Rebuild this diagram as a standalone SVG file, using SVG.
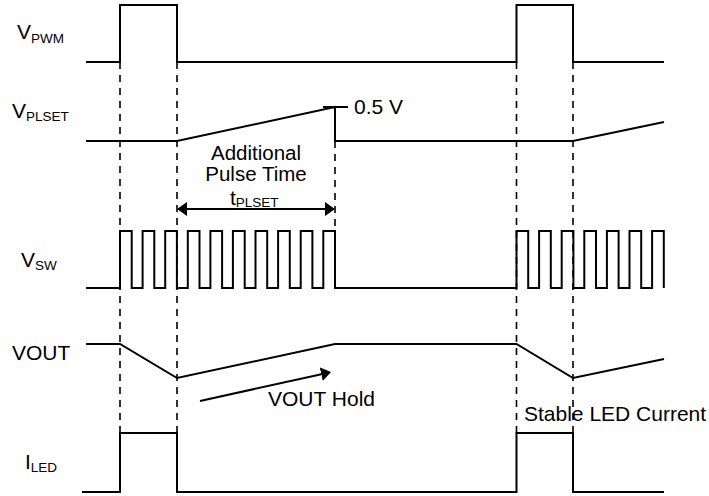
<svg xmlns="http://www.w3.org/2000/svg" width="709" height="496" viewBox="0 0 709 496">
<style>
.w{fill:none;stroke:#000;stroke-width:2;stroke-linejoin:miter}
.d{fill:none;stroke:#000;stroke-width:1.6;stroke-dasharray:7 6}
.a{fill:none;stroke:#000;stroke-width:2}
text{font-family:"Liberation Sans",Arial,sans-serif;fill:#000;font-size:21px}
.s{font-size:13.5px}
.m{font-size:20.5px}
</style>
<defs>
<marker id="ah" viewBox="0 0 10 14" refX="6" refY="7" markerWidth="10" markerHeight="14" markerUnits="userSpaceOnUse" orient="auto-start-reverse">
<path d="M0,0 L10,7 L0,14 Z" fill="#000"/>
</marker>
</defs>
<rect width="709" height="496" fill="#fff"/>

<g id="guides">
<line class="d" x1="120" y1="62" x2="120" y2="433"/>
<line class="d" x1="177" y1="62" x2="177" y2="433"/>
<line class="d" x1="335" y1="141" x2="335" y2="231"/>
<line class="d" x1="516.5" y1="62" x2="516.5" y2="433"/>
<line class="d" x1="573" y1="62" x2="573" y2="433"/>
</g>

<g id="vpwm">
<text x="17" y="39">V<tspan class="s" y="43">PWM</tspan></text>
<path class="w" d="M86,62 H120 V5 H177 V62 H516.5 V5 H573 V62 H664"/>
</g>

<g id="vplset">
<text x="12" y="118">V<tspan class="s" y="121">PLSET</tspan></text>
<path class="w" d="M86,141 H177 L335,107 V141 H573 L664,122"/>
<line class="w" x1="323" y1="107" x2="348" y2="107"/>
<text x="354" y="114">0.5 V</text>
</g>

<g id="vsw">
<text x="21" y="267">V<tspan class="s" y="270">SW</tspan></text>
<path class="w" d="M86,288 H120 V231 H131.7 V288 H142.6 V231 H154.3 V288 H165.2 V231 H176.9 V288 H187.8 V231 H199.5 V288 H210.4 V231 H222.1 V288 H232.9 V231 H244.7 V288 H255.5 V231 H267.2 V288 H278.1 V231 H289.8 V288 H300.7 V231 H312.4 V288 H323.3 V231 H335 V288 H516.5 V231 H528.2 V288 H539.1 V231 H550.8 V288 H561.7 V231 H573.4 V288 H584.3 V231 H596 V288 H606.9 V231 H618.6 V288 H629.5 V231 H641.2 V288 H652.1 V231 H663.8 V288"/>
</g>

<g id="vout">
<text x="12" y="360">VOUT</text>
<path class="w" d="M86,344 H120 L177,378 L335,344 H516.5 L573,378 L664,359"/>
</g>

<g id="iled">
<text x="25" y="469">I<tspan class="s" y="472">LED</tspan></text>
<path class="w" d="M82,492 H120 V433 H177 V492 H516.5 V433 H573 V492 H664"/>
</g>

<g id="connectors">
<line class="a" x1="181" y1="209" x2="331" y2="209" marker-start="url(#ah)" marker-end="url(#ah)"/>
<line class="a" x1="200" y1="401" x2="327.1" y2="372.9" marker-end="url(#ah)"/>
</g>

<g id="labels">
<text class="m" x="256" y="160" text-anchor="middle">Additional</text>
<text class="m" x="256" y="181" text-anchor="middle">Pulse Time</text>
<text x="230" y="205">t<tspan class="s" y="207">PLSET</tspan></text>
<text x="268" y="406">VOUT Hold</text>
<text x="524" y="421">Stable LED Current</text>
</g>
</svg>
